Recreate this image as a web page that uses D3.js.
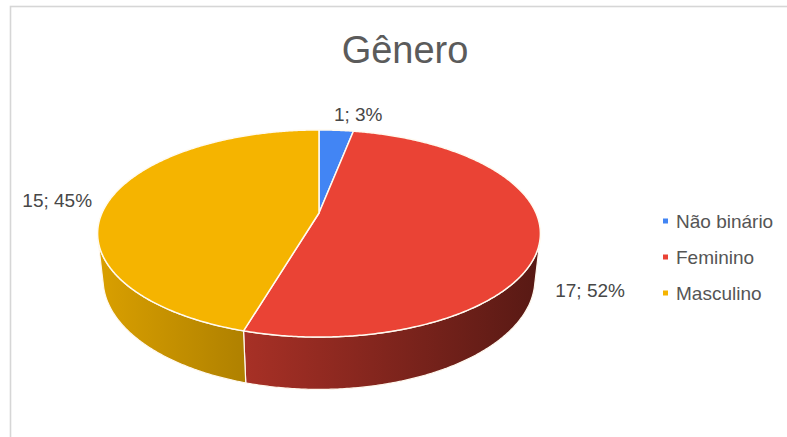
<!DOCTYPE html>
<html>
<head>
<meta charset="utf-8">
<script src="https://cdn.jsdelivr.net/npm/d3@7"></script>
<style>
  html, body { margin: 0; padding: 0; background: #fff; }
  svg { display: block; font-family: "Liberation Sans", Arial, sans-serif; }
</style>
</head>
<body>
<svg id="chart" width="787" height="437"></svg>
<script>
// Data
const title = "Gênero";
const categories = ["Não binário", "Feminino", "Masculino"];
const values = [1, 17, 15];
const palette = ["#4285f4", "#ea4335", "#f5b400"];

const W = 787, H = 437;
const svg = d3.select("#chart");

// Chart frame (only the left and top edges fall inside the view)
svg.append("rect")
  .attr("x", 10.5).attr("y", 6.5)
  .attr("width", 820).attr("height", 460)
  .attr("fill", "#fff")
  .attr("stroke", "#d6d6d6").attr("stroke-width", 1.6);

// Title
svg.append("text")
  .attr("x", 405).attr("y", 63)
  .attr("text-anchor", "middle")
  .attr("font-size", 38)
  .attr("fill", "#5b5b5b")
  .text(title);

// --- 3D pie projection -------------------------------------------------
// World: X right, Y up, Z toward the viewer. Disc radius 1, top face at Y = 0.
const cx = 319, cy = 213, k = 217;           // screen centre and scale
const tilt = 27.3 * Math.PI / 180;           // elevation of the camera
const sA = Math.sin(tilt), cA = Math.cos(tilt);
const camDist = 4.49;                        // perspective distance (in radii)
const thick = 0.24;                          // disc thickness (in radii)

function project(theta, r, y) {
  const X = r * Math.sin(theta), Z = -r * Math.cos(theta), Y = y;
  const yc = Y * cA - Z * sA;
  const zc = Y * sA + Z * cA;
  const sc = camDist / (camDist - zc);
  return [cx + k * X * sc, cy - k * yc * sc];
}

const pie = d3.pie().sort(null).value(d => d.value)
  .startAngle(0).endAngle(2 * Math.PI);
const arcs = pie(categories.map((c, i) => ({ name: c, value: values[i], color: palette[i] })));
const total = d3.sum(values);

const line = d3.line();
const step = Math.PI / 360;
function arcPoints(a0, a1, y) {
  const n = Math.max(2, Math.ceil((a1 - a0) / step));
  return d3.range(n + 1).map(i => project(a0 + (a1 - a0) * i / n, 1, y));
}

// Side walls are visible where the outward normal faces the camera
const zMin = 1 / (camDist * cA);
const visStart = Math.acos(-zMin), visEnd = 2 * Math.PI - Math.acos(-zMin);

// Horizontal shading of the side walls (lit from the left)
const xLeft = project(-Math.PI / 2, 1, 0)[0] - 6, xRight = project(Math.PI / 2, 1, 0)[0] + 6;
const shade = d3.scaleLinear().domain([0, 1]).range([0.89, 0.37]);
const defs = svg.append("defs");
arcs.forEach((d, i) => {
  const g = defs.append("linearGradient")
    .attr("id", "side" + i)
    .attr("gradientUnits", "userSpaceOnUse")
    .attr("x1", xLeft).attr("x2", xRight).attr("y1", 0).attr("y2", 0);
  const base = d3.rgb(d.data.color);
  [0, 0.5, 1].forEach(t => {
    const f = shade(t);
    g.append("stop").attr("offset", t)
      .attr("stop-color", d3.rgb(base.r * f, base.g * f, base.b * f).formatHex());
  });
});

const pieG = svg.append("g");

// Side walls
arcs.forEach((d, i) => {
  const a0 = Math.max(d.startAngle, visStart), a1 = Math.min(d.endAngle, visEnd);
  if (a1 <= a0) return;
  const pts = arcPoints(a0, a1, 0).concat(arcPoints(a0, a1, -thick).reverse());
  pieG.append("path")
    .attr("d", line(pts) + "Z")
    .attr("fill", `url(#side${i})`)
    .attr("stroke", "#fff8ee").attr("stroke-width", 1.2)
    .attr("stroke-linejoin", "round");
});

// Top faces
const centre = project(0, 0, 0);
arcs.forEach(d => {
  const pts = [centre].concat(arcPoints(d.startAngle, d.endAngle, 0));
  pieG.append("path")
    .attr("d", line(pts) + "Z")
    .attr("fill", d.data.color)
    .attr("stroke", "#fffaf0").attr("stroke-width", 1.5)
    .attr("stroke-linejoin", "round");
});

// Data labels "value; percent"
const labelNudge = [
  { dx: 22, dy: -9, anchor: "middle" },
  { dx: 15, dy: 59, anchor: "start" },
  { dx: -18, dy: 8, anchor: "end" }
];
arcs.forEach((d, i) => {
  const mid = (d.startAngle + d.endAngle) / 2;
  const p = project(mid, 1, 0);
  const n = labelNudge[i];
  svg.append("text")
    .attr("x", p[0] + n.dx).attr("y", p[1] + n.dy)
    .attr("text-anchor", n.anchor)
    .attr("font-size", 19)
    .attr("fill", "#474747")
    .text(`${d.data.value}; ${Math.round(d.data.value / total * 100)}%`);
});

// Legend
const legendY = d3.scalePoint().domain(categories).range([221, 293]);
const legend = svg.append("g");
categories.forEach((c, i) => {
  const y = legendY(c);
  legend.append("rect")
    .attr("x", 663).attr("y", y - 2.5)
    .attr("width", 5).attr("height", 5)
    .attr("fill", palette[i]);
  legend.append("text")
    .attr("x", 676).attr("y", y)
    .attr("dy", "0.35em")
    .attr("font-size", 19)
    .attr("fill", "#555")
    .text(c);
});
</script>
</body>
</html>
